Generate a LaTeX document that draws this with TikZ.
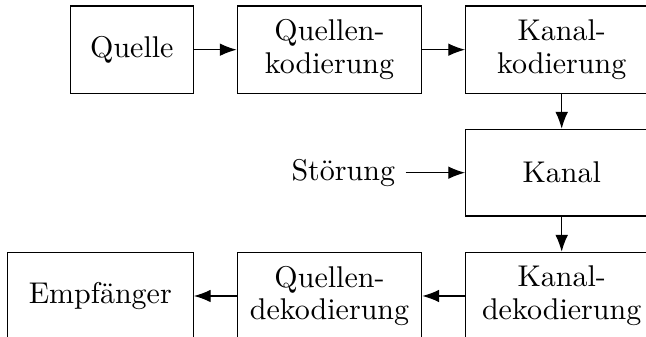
\documentclass[tikz,border=0pt]{standalone}
\usetikzlibrary{arrows.meta}
\begin{document}
\begin{tikzpicture}[x=0.33333pt,y=-0.33333pt,
  blk/.style={draw,line width=0.4pt,inner sep=0pt,align=center,minimum height=29.1pt},
  conn/.style={-{Latex[length=5.6pt,width=4.2pt]},line width=0.4pt}]
\useasboundingbox (0,0) rectangle (646,337);
\node[blk,minimum width=40.9pt] (quelle) at (131.9,49.7) {Quelle};
\node[blk,minimum width=61.5pt] (qk) at (329.5,49.7) {Quellen-\\[-1.1pt]kodierung};
\node[blk,minimum width=64pt] (kk) at (561.7,49.7) {Kanal-\\[-1.1pt]kodierung};
\node[blk,minimum width=64pt,minimum height=28.9pt] (kanal) at (561.7,172.7) {Kanal};
\node (stoer) at (343.3,172.7) {Störung};
\node[blk,minimum width=64pt] (kdk) at (561.7,296) {Kanal-\\[-1.1pt]dekodierung};
\node[blk,minimum width=61.5pt] (qdk) at (329.5,296) {Quellen-\\[-1.1pt]dekodierung};
\node[blk,minimum width=62pt] (empf) at (100.3,296) {Empfänger};
\draw[conn] (quelle) -- (qk);
\draw[conn] (qk) -- (kk);
\draw[conn] (kk) -- (kanal);
\draw[conn] (stoer) -- (kanal);
\draw[conn] (kanal) -- (kdk);
\draw[conn] (kdk) -- (qdk);
\draw[conn] (qdk) -- (empf);
\end{tikzpicture}
\end{document}
